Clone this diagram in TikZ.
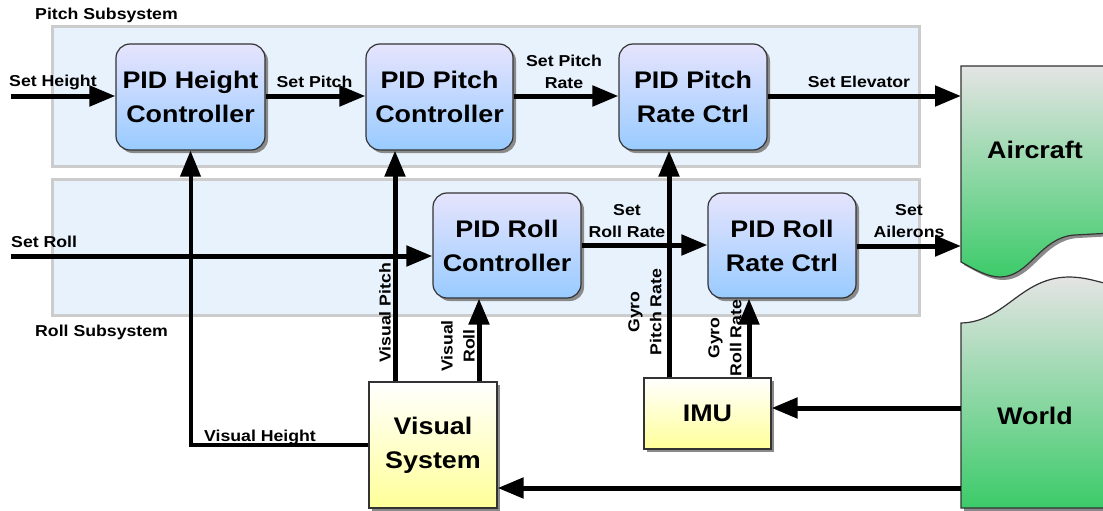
\documentclass[tikz,border=0pt]{standalone}
\usepackage{fontspec}
\setmainfont{Liberation Sans}[FakeStretch=1.12]
\usetikzlibrary{arrows.meta,shadows,calc}
\definecolor{panelfill}{HTML}{E8F2FD}
\definecolor{panelline}{HTML}{CCCCCC}
\definecolor{bluetop}{HTML}{E6E4FD}
\definecolor{bluebot}{HTML}{99CBFF}
\definecolor{yeltop}{HTML}{FFFFFF}
\definecolor{yelbot}{HTML}{FFFF99}
\definecolor{greentop}{HTML}{E4E4E4}
\definecolor{greenbot}{HTML}{3CCB69}
\definecolor{boxline}{HTML}{333333}
\definecolor{shadowgray}{HTML}{8A8A8A}
\tikzset{
  big/.style={font=\fontsize{24}{34}\selectfont\bfseries, align=center},
  small/.style={font=\fontsize{15.8}{22}\selectfont\bfseries, align=center, inner sep=0pt},
  myshadow/.style={drop shadow={shadow xshift=3pt, shadow yshift=-3pt, fill=shadowgray, opacity=1}},
  pidbox/.style={big, draw=boxline, line width=1.2pt, rounded corners=14pt, top color=bluetop, bottom color=bluebot, myshadow, inner sep=0pt},
  sensbox/.style={big, draw=boxline, line width=1.2pt, top color=yeltop, bottom color=yelbot, myshadow, inner sep=0pt},
  panel/.style={draw=panelline, line width=3pt, fill=panelfill},
  sig/.style={line width=5pt, -{Triangle[length=26pt,width=20pt]}},
  plainline/.style={line width=4pt},
  ghost/.style={inner sep=0pt, outer sep=0pt},
}
\begin{document}
\begin{tikzpicture}[x=1pt,y=-1pt]
\useasboundingbox (0,0) rectangle (1103,511);
\clip (0,0) rectangle (1103,511);
% panels
\draw[panel] (52,27) rectangle (919,166);
\draw[panel] (52,179) rectangle (919,315);
\node[small, anchor=west] (pitchsub) at (35,15) {Pitch Subsystem};
\node[small, anchor=west] (rollsub) at (35,332) {Roll Subsystem};

% aircraft and world shapes
\fill[shadowgray] (964,69) -- (1115,69) -- (1115,236) -- (1078,238)
  .. controls (1043,240) and (1033,280) .. (1003,280)
  .. controls (990,280) and (977,272) .. (964,265) -- cycle;
\draw[draw=boxline, line width=1.2pt, top color=greentop, bottom color=greenbot]
  (961,66) -- (1112,66) -- (1112,233) -- (1075,235)
  .. controls (1040,237) and (1030,277) .. (1000,277)
  .. controls (987,277) and (974,269) .. (961,262) -- cycle;
\fill[shadowgray] (964,326) .. controls (1008,325) and (1023,281) .. (1071,280)
  .. controls (1088,280) and (1098,284) .. (1115,288) -- (1115,514) -- (964,514) -- cycle;
\draw[draw=boxline, line width=1.2pt, top color=greentop, bottom color=greenbot]
  (961,323) .. controls (1005,322) and (1020,278) .. (1068,277)
  .. controls (1085,277) and (1095,281) .. (1112,285) -- (1112,508) -- (961,508) -- cycle;
\node[ghost, minimum width=151pt, minimum height=196pt] (ac) at (1036.5,164) {};
\node[ghost, minimum width=151pt, minimum height=231pt] (wd) at (1036.5,392.5) {};
\node[big] (actext) at (1035,150) {Aircraft};
\node[big] (wdtext) at (1035,416) {World};

% boxes
\node[pidbox, minimum width=149pt, minimum height=106pt] (ph) at (190.5,97) {PID Height\\Controller};
\node[pidbox, minimum width=147pt, minimum height=106pt] (pp) at (439.5,97) {PID Pitch\\Controller};
\node[pidbox, minimum width=148pt, minimum height=106pt] (pr) at (693,97) {PID Pitch\\Rate Ctrl};
\node[pidbox, minimum width=148pt, minimum height=105pt] (rc) at (507,245.5) {PID Roll\\Controller};
\node[pidbox, minimum width=148pt, minimum height=105pt] (rr) at (782,245.5) {PID Roll\\Rate Ctrl};
\node[sensbox, minimum width=128pt, minimum height=126pt] (vs) at (433,445) {Visual\\System};
\node[sensbox, minimum width=127pt, minimum height=71pt] (imu) at (707.5,413.5) {IMU};

% inputs
\coordinate (sh) at (11,96);
\coordinate (sr) at (11,256);

% connectors
\draw[plainline, -{Triangle[length=26pt,width=20pt]}] (vs.west) -| (ph.south);
\draw[sig] (sr) -- (sr -| rc.west);
\draw[sig] (sh) -- (sh -| ph.west);
\draw[sig] (ph.east |- sh) -- (pp.west |- sh);
\draw[sig] (pp.east |- sh) -- (pr.west |- sh);
\draw[sig] (pr.east |- sh) -- (ac.west |- sh);
\draw[sig] (rc.east |- 0,245) -- (rr.west |- 0,245);
\draw[sig] (rr.east |- 0,246) -- (ac.west |- 0,246);
\draw[sig] (vs.north -| 395,0) -- (pp.south -| 395,0);
\draw[sig] (vs.north -| 479,0) -- (rc.south -| 479,0);
\draw[sig] (imu.north -| 669,0) -- (pr.south -| 669,0);
\draw[sig] (imu.north -| 749,0) -- (rr.south -| 749,0);
\draw[sig] (wd.west |- 0,408) -- (imu.east |- 0,408);
\draw[sig] (wd.west |- 0,488) -- (vs.east |- 0,488);

% labels
\node[small, anchor=west] (lsh) at (9,82) {Set Height};
\node[small] (lsp) at (314.5,82) {Set Pitch};
\node[small] (lspr) at (564,72) {Set Pitch\\Rate};
\node[small] (lse) at (859,82) {Set Elevator};
\node[small, anchor=west] (lsr) at (11,242) {Set Roll};
\node[small] (lsrr) at (627,221) {Set\\Roll Rate};
\node[small] (lsa) at (909,221) {Set\\Ailerons};
\node[small] (lvh) at (260,437) {Visual Height};
\node[small, rotate=90] (lvp) at (385,313) {Visual Pitch};
\node[small, rotate=90] (lvr) at (458,346) {Visual\\Roll};
\node[small, rotate=90] (lgp) at (645,312) {Gyro\\Pitch Rate};
\node[small, rotate=90] (lgr) at (725,338) {Gyro\\Roll Rate};
\end{tikzpicture}
\end{document}
